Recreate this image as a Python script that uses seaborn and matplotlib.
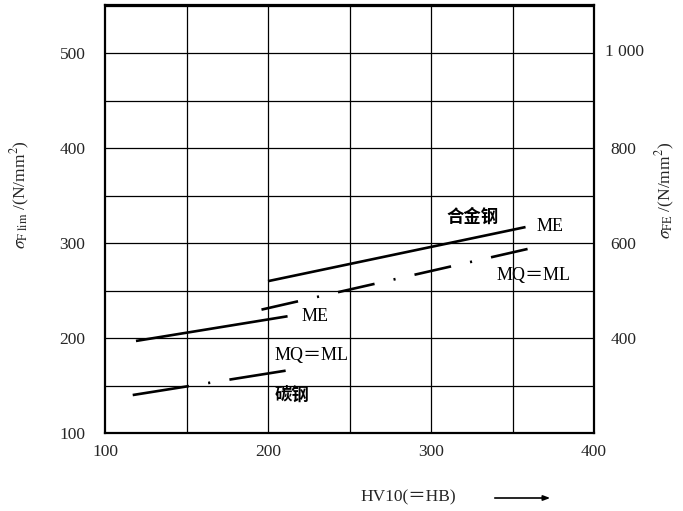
import matplotlib
matplotlib.use("Agg")
import matplotlib.pyplot as plt
import matplotlib.transforms as mtransforms
import seaborn as sns
import pandas as pd

# ---- data ----
alloy_me_x = [200, 358]
alloy_me_y = [260, 317]
alloy_mq_x = [196, 362]
alloy_mq_y = [230, 295]
carbon_me_x = [119, 212]
carbon_me_y = [197, 223]
carbon_mq_x = [117, 212]
carbon_mq_y = [140, 166]

x_ticks = [100, 200, 300, 400]
y_ticks = [100, 200, 300, 400, 500]
right_ticks = [400, 600, 800, 1000]
right_labels = ["400", "600", "800", "1 000"]

sns.set_style("white")
plt.rcParams["font.family"] = ["Liberation Serif", "Noto Sans CJK SC", "DejaVu Sans"]
plt.rcParams["mathtext.fontset"] = "stix"

W, H = 683, 511
fig = plt.figure(figsize=(W / 100, H / 100), dpi=100)
L, R, T, B = 105, 594, 5, 433
ax = fig.add_axes([L / W, 1 - B / H, (R - L) / W, (B - T) / H])

ax.set_xlim(100, 400)
ax.set_ylim(100, 551)

# grid
for gx in range(150, 400, 50):
    ax.axvline(gx, color="black", lw=0.9, zorder=1)
for gy in range(150, 551, 50):
    ax.axhline(gy, color="black", lw=0.9, zorder=1)

def draw(xs, ys, dashes=None):
    df = pd.DataFrame({"x": xs, "y": ys})
    sns.lineplot(data=df, x="x", y="y", ax=ax, color="black", lw=1.9, zorder=3)
    ln = ax.get_lines()[-1]
    ln.set_solid_capstyle("butt")
    if dashes is not None:
        ln.set_dashes(dashes)
        ln.set_dash_capstyle("butt")

draw(alloy_me_x, alloy_me_y)
draw(carbon_me_x, carbon_me_y)
plt.rcParams["lines.scale_dashes"] = False
draw(alloy_mq_x, alloy_mq_y, (27, 14, 1.5, 14))
draw(carbon_mq_x, carbon_mq_y, (41, 14, 1.5, 14))

ax.set_xlabel("")
ax.set_ylabel("")
ax.set_xticks(x_ticks)
ax.set_xticklabels([str(v) for v in x_ticks])
ax.set_yticks(y_ticks)
ax.set_yticklabels([str(v) for v in y_ticks])
ax.tick_params(axis="both", length=0, labelsize=12.5)
ax.tick_params(axis="y", pad=14)
ax.tick_params(axis="x", pad=8)
for s in ax.spines.values():
    s.set_linewidth(1.6)
    s.set_color("black")

ax2 = ax.twinx()
ax2.set_ylim(200, 1102)
ax2.set_yticks(right_ticks)
ax2.set_yticklabels(right_labels)
ax2.tick_params(axis="y", length=0, labelsize=12.5, pad=12)
for s in ax2.spines.values():
    s.set_visible(False)
# the "1 000" label sits a little further left in the reference
lab = ax2.get_yticklabels()[-1]
lab.set_transform(lab.get_transform() + mtransforms.ScaledTranslation(-6 / 100, 3 / 100, fig.dpi_scale_trans))

# annotations
tk = dict(color="black", fontsize=13, va="center", ha="left", zorder=5)
ax.text(364.5, 318, "ME", **tk)
ax.text(340, 266, "MQ＝ML", **tk)
ax.text(220.6, 223, "ME", **tk)
ax.text(204, 182, "MQ＝ML", **tk)
ck = dict(color="black", fontsize=12.5, va="center", ha="left", fontweight="bold",
          family=["Noto Sans CJK SC", "DejaVu Sans"], zorder=5)
ax.text(309.4, 328, "合金钢", **ck)
ax.text(204, 140, "碳钢", **ck)

# axis titles
fig.text(20 / W, 1 - 195 / H, r"$\sigma_{\mathrm{F\ lim}}$ /(N/mm$^2$)", rotation=90,
         ha="center", va="center", fontsize=12.5)
fig.text(665 / W, 1 - 190 / H, r"$\sigma_{\mathrm{FE}}$ /(N/mm$^2$)", rotation=90,
         ha="center", va="center", fontsize=12.5)
fig.text(408 / W, 1 - 497 / H, "HV10(＝HB)", ha="center", va="center", fontsize=12.5)
fig.add_artist(matplotlib.patches.FancyArrowPatch(
    (492 / W, 1 - 498 / H), (553 / W, 1 - 498 / H), transform=fig.transFigure,
    arrowstyle="-|>,head_length=4,head_width=1.5", color="black", lw=1.2))

fig.savefig("out.png", dpi=100)
